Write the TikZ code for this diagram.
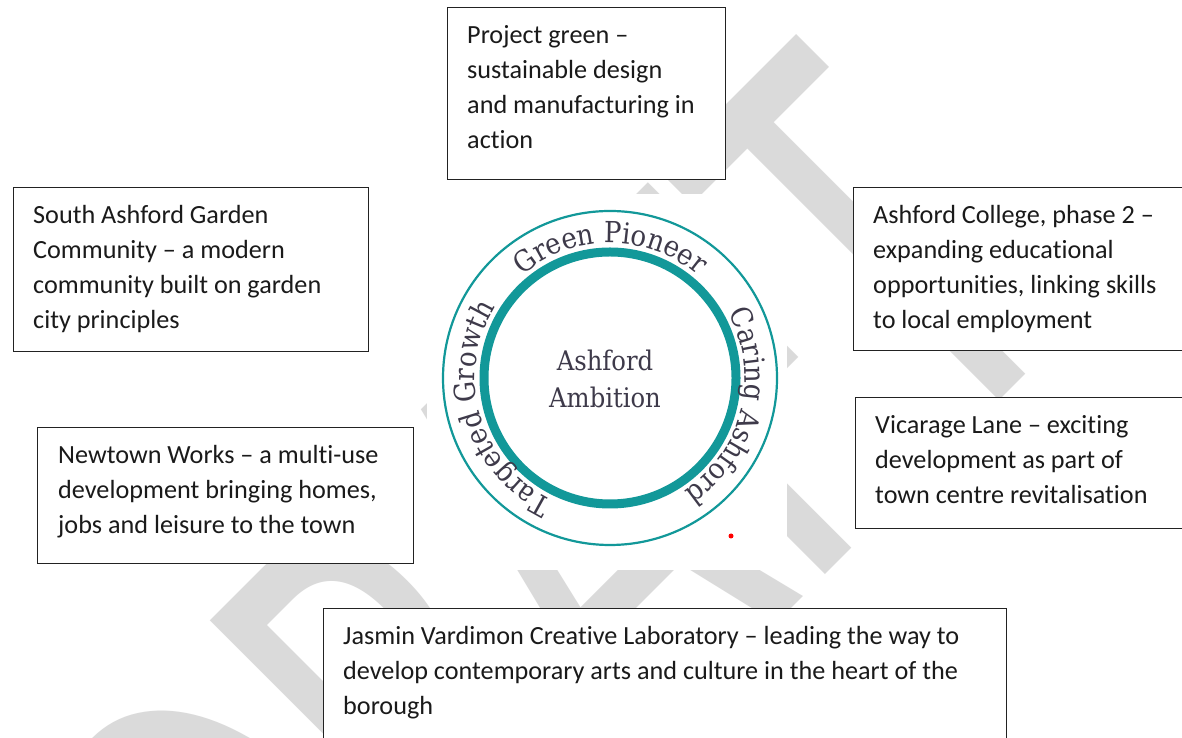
\documentclass[tikz,border=0pt]{standalone}
\usepackage{fontspec}
\setmainfont{Carlito}[Ligatures=NoCommon]
\newfontfamily\slabfont{DejaVu Serif Condensed}
\usetikzlibrary{decorations.text,calc}
\definecolor{tealring}{RGB}{18,152,153}
\definecolor{wmgray}{RGB}{218,218,218}
\definecolor{boxline}{RGB}{34,34,34}
\definecolor{txtcol}{RGB}{26,26,26}
\definecolor{slabcol}{RGB}{62,58,74}
\newcommand\curvefont{\slabfont\fontsize{29}{29}\selectfont\color{slabcol}}
\begin{document}
\begin{tikzpicture}[x=1pt,y=1pt,
  infobox/.style={draw=boxline, line width=1.4pt, fill=white, inner sep=0pt, anchor=north west},
  infotext/.style={anchor=north west, inner sep=0pt, align=left, text=txtcol, font=\fontsize{26.2}{35}\selectfont},
  curvetext/.style={decorate, decoration={text along path, text align=center, text={|\curvefont|#1}}}]
\clip (0,0) rectangle (1182,738);
\fill[white] (0,0) rectangle (1182,738);
% watermark
\node[rotate=45, anchor=base east, inner sep=0pt, text=wmgray, font=\fontsize{418}{418}\selectfont] (wmark) at (1085,423) {\scalebox{1}[1.5]{DRAFT}};
% white backing of the circle graphic
\fill[white] (427,168) rectangle (787,544);
% boxes
\node[infobox, minimum width=278, minimum height=172] (pg) at (447,731) {};
\node[infotext] (pgt) at ($(pg.north west)+(20,-10)$) {\rule{0pt}{26pt}Project green –\\sustainable design\\and manufacturing in\\action};
\node[infobox, minimum width=355, minimum height=164] (sa) at (13,551) {};
\node[infotext] (sat) at ($(sa.north west)+(20,-10)$) {\rule{0pt}{26pt}South Ashford Garden\\Community – a modern\\community built on garden\\city principles};
\node[infobox, minimum width=360, minimum height=163] (ac) at (853,551) {};
\node[infotext] (act) at ($(ac.north west)+(20,-10)$) {\rule{0pt}{26pt}Ashford College, phase 2 –\\expanding educational\\opportunities, linking skills\\to local employment};
\node[infobox, minimum width=360, minimum height=131] (vl) at (855,341) {};
\node[infotext] (vlt) at ($(vl.north west)+(20,-10)$) {\rule{0pt}{26pt}Vicarage Lane – exciting\\development as part of\\town centre revitalisation};
\node[infobox, minimum width=376, minimum height=136] (nw) at (37,311) {};
\node[infotext] (nwt) at ($(nw.north west)+(21,-10)$) {\rule{0pt}{26pt}Newtown Works – a multi-use\\development bringing homes,\\jobs and leisure to the town};
\node[infobox, minimum width=683, minimum height=160] (jv) at (323,130) {};
\node[infotext] (jvt) at ($(jv.north west)+(20,-10)$) {\rule{0pt}{26pt}Jasmin Vardimon Creative Laboratory – leading the way to\\develop contemporary arts and culture in the heart of the\\borough};
% circle
\coordinate (c) at (610,360);
\draw[tealring, line width=2.2pt] (c) circle[radius=167];
\draw[tealring, line width=9pt] (c) circle[radius=126];
\node[anchor=north, inner sep=0pt, align=center, text=slabcol, font=\slabfont\fontsize{27}{37}\selectfont] (amb) at (605,395) {\rule{0pt}{27pt}Ashford\\Ambition};
\path[curvetext={Green Pioneer}] ($(c)+(180:135)$) arc[start angle=180, end angle=0, radius=135];
\path[curvetext={Caring Ashford}] ($(c)+(76:135)$) arc[start angle=76, end angle=-104, radius=135];
\path[curvetext={Targeted Growth}] ($(c)+(286.5:135)$) arc[start angle=286.5, end angle=106.5, radius=135];
\fill[red] (731,202) circle[radius=2.5];
\end{tikzpicture}
\end{document}
